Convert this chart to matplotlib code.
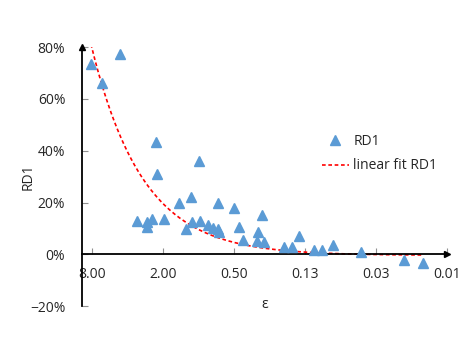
import numpy as np
import matplotlib.pyplot as plt
from matplotlib.ticker import FixedLocator, FuncFormatter, PercentFormatter

# datos
eps = [8.16, 6.58, 4.63, 2.29, 0.99, 2.25, 1.16, 1.46, 0.68, 0.50,
       3.32, 2.73, 2.48, 2.73, 1.96, 1.28, 1.14, 0.97, 0.83, 0.75,
       0.68, 0.67, 0.29, 0.45, 0.31, 0.42, 0.32, 0.28, 0.19, 0.16,
       0.14, 0.105, 0.090, 0.072, 0.042, 0.018, 0.0125]
rd1 = [0.735, 0.66, 0.774, 0.433, 0.36, 0.31, 0.22, 0.197, 0.20, 0.178,
       0.128, 0.124, 0.135, 0.104, 0.135, 0.097, 0.124, 0.13, 0.112, 0.10,
       0.097, 0.085, 0.15, 0.105, 0.085, 0.054, 0.05, 0.046, 0.03, 0.027,
       0.07, 0.015, 0.015, 0.035, 0.008, -0.023, -0.035]

# ajuste lineal RD1 = a*eps + b (coeficientes)
fit_slope = 0.1
fit_intercept = -0.004

x_ticks = [8, 2, 0.5, 0.125, 0.03125, 0.0078125]
y_ticks = [-0.2, 0.0, 0.2, 0.4, 0.6, 0.8]

plt.rcParams['font.family'] = ['Open Sans', 'DejaVu Sans']

fig = plt.figure(figsize=(4.74, 3.42), dpi=100)
ax = fig.add_axes([0.173, 0.105, 0.770, 0.757])

# puntos
ax.plot(eps, rd1, linestyle="none", marker="^", markersize=7.2,
        color="#5B9BD5", label="RD1", zorder=3)

# linea de ajuste
fit_x = np.geomspace(max(eps), min(eps), 200)
ax.plot(fit_x, fit_slope * fit_x + fit_intercept, color="#FF0000",
        linestyle=(0, (2.2, 1.6)), linewidth=1.2, label="linear fit RD1", zorder=2)

ax.set_xscale("log", base=4)
ax.set_xlim(9.72, 0.0078125)
ax.set_ylim(-0.2, 0.8)

ax.xaxis.set_major_locator(FixedLocator(x_ticks))
ax.xaxis.set_minor_locator(FixedLocator([]))
ax.xaxis.set_major_formatter(FuncFormatter(lambda v, p: f"{v + 1e-9:.2f}"))
ax.yaxis.set_major_locator(FixedLocator(y_ticks))
ax.yaxis.set_major_formatter(PercentFormatter(1.0, decimals=0))

# ejes estilo excel
for s in ["top", "right"]:
    ax.spines[s].set_visible(False)
ax.spines["bottom"].set_position(("data", 0))
ax.spines["bottom"].set_linewidth(1.3)
ax.spines["left"].set_linewidth(1.3)
ax.tick_params(axis="x", direction="in", length=4, width=0.8, color="#909090",
               labelsize=10, labelcolor="#262626", pad=9)
ax.tick_params(axis="y", direction="in", length=4, width=0.8, color="#909090",
               labelsize=10, labelcolor="#262626", pad=12)

ax.plot(1, 0, ">", color="black", markersize=5, transform=ax.get_yaxis_transform(), clip_on=False)
ax.plot(0, 1, "^", color="black", markersize=5, transform=ax.transAxes, clip_on=False)

ax.set_xlabel("ε", fontsize=10, color="#262626")
ax.xaxis.set_label_coords(0.5, 0.035)
ax.set_ylabel("RD1", fontsize=10, color="#262626")
ax.yaxis.set_label_coords(-0.128, 0.5)

ax.legend(loc="upper left", bbox_to_anchor=(0.622, 0.714), frameon=False,
          fontsize=10, handlelength=2.0, handletextpad=0.3, labelspacing=0.7,
          labelcolor="#262626")

fig.savefig("out.png", dpi=100)
